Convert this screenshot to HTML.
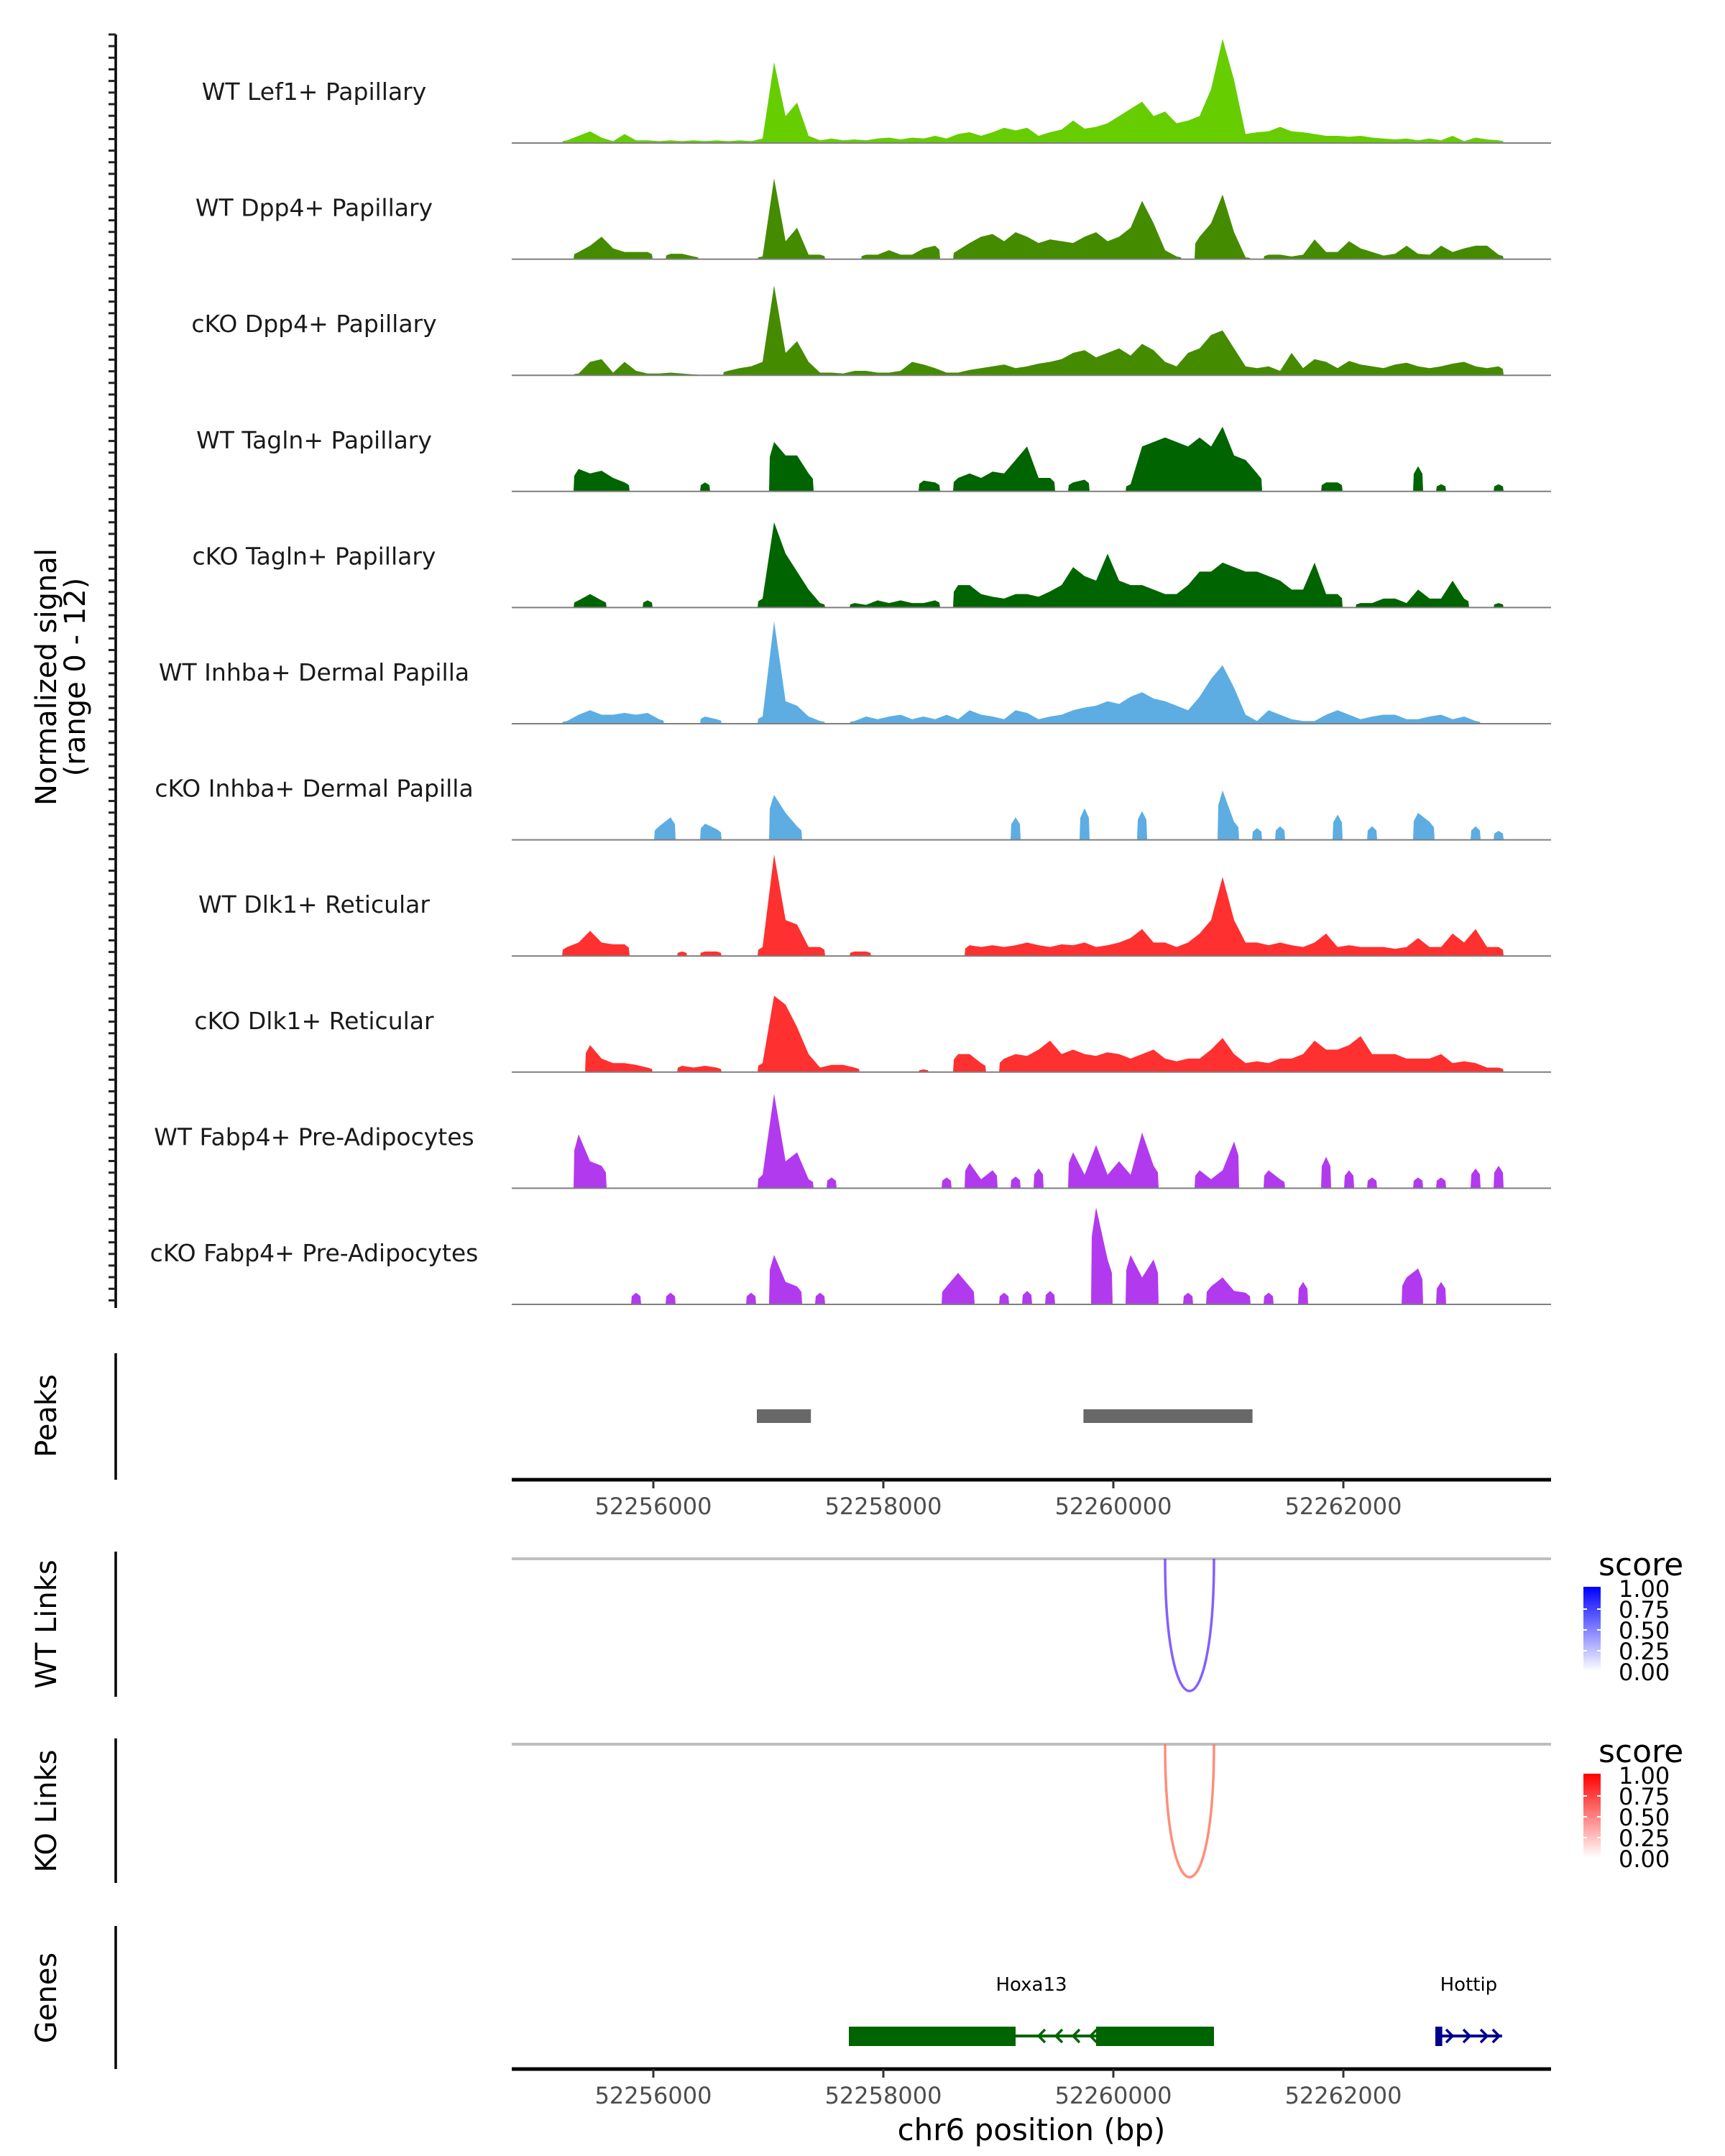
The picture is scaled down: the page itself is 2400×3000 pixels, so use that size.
<!DOCTYPE html>
<html><head><meta charset="utf-8"><style>
html,body{margin:0;padding:0;background:#fff}
svg{display:block;font-family:"DejaVu Sans","Liberation Sans",sans-serif}
</style></head><body>
<svg id="chart" width="2400" height="3000" viewBox="0 0 2400 3000" xmlns="http://www.w3.org/2000/svg">
<g id="tracks"></g>
<g id="static"></g>
</svg>
<script>
const trackNames = ["WT Lef1+ Papillary","WT Dpp4+ Papillary","cKO Dpp4+ Papillary","WT Tagln+ Papillary","cKO Tagln+ Papillary","WT Inhba+ Dermal Papilla","cKO Inhba+ Dermal Papilla","WT Dlk1+ Reticular","cKO Dlk1+ Reticular","WT Fabp4+ Pre-Adipocytes","cKO Fabp4+ Pre-Adipocytes"];
const trackColors = ["#66cd00","#458b00","#458b00","#006400","#006400","#5dade2","#5dade2","#ff3030","#ff3030","#b23aee","#b23aee"];
const binStart = 52255200;
const binSize = 100;
const lef1WT = [0.3,0.8,1.3,0.6,0.2,1.0,0.3,0.3,0.2,0.3, 0.2,0.3,0.2,0.3,0.2,0.3,0.2,0.5,9.0,3.0, 4.5,0.8,0.3,0.5,0.3,0.4,0.3,0.5,0.6,0.4, 0.6,0.5,0.8,0.5,1.0,1.2,0.8,1.2,1.7,1.4, 1.7,0.8,1.2,1.5,2.5,1.6,1.8,2.2,3.0,3.8, 4.6,3.0,3.5,2.2,2.5,3.0,6.0,11.6,7.0,1.0, 1.2,1.3,1.8,1.3,1.2,1.0,0.8,0.8,0.7,0.8, 0.6,0.5,0.4,0.5,0.3,0.5,0.3,0.8,0.2,0.6, 0.4,0.3];
const dpp4WT = [0,0.8,1.5,2.5,1.2,0.8,0.8,0.8,0,0.6, 0.6,0.3,0,0,0,0,0,0.3,9.0,2.0, 3.5,0.5,0.5,0,0,0,0.5,0.5,1.0,0.5, 0.5,1.2,1.5,0,1.0,1.8,2.5,2.8,2.0,3.0, 2.5,1.8,2.2,2.0,1.8,2.5,3.0,2.0,2.5,3.5, 6.5,4.0,1.0,0.3,0,2.5,4.0,7.2,3.0,0.2, 0,0.5,0.5,0.3,0.5,2.2,0.8,0.8,2.0,1.2, 0.8,0.4,0.6,1.5,0.6,0.5,1.5,0.8,1.2,1.5, 1.5,0.5];
const dpp4KO = [0,0.2,1.5,1.8,0.3,1.5,0.5,0.2,0.2,0.3, 0.2,0.1,0,0,0.5,0.8,1.0,1.5,10.0,2.5, 3.8,1.5,0.3,0.3,0.2,0.5,0.5,0.3,0.3,0.5, 1.5,1.2,0.8,0.3,0.3,0.6,0.8,1.0,1.2,0.8, 1.0,1.3,1.5,1.8,2.5,2.8,2.0,2.5,3.0,2.2, 3.5,2.8,1.5,1.0,2.5,3.0,4.5,5.0,3.0,1.0, 0.8,1.0,0.5,2.5,0.8,1.8,1.5,0.8,1.6,1.2, 1.0,0.8,1.2,1.4,1.0,0.8,1.0,1.3,1.5,1.0, 0.8,1.0];
const taglnWT = [0,2.5,2.0,2.3,1.5,1.0,0,0,0,0, 0,0,1.0,0,0,0,0,0,5.5,4.0, 4.0,2.0,0,0,0,0,0,0,0,0, 0,1.2,1.0,0,1.5,2.0,1.5,2.2,2.0,3.5, 5.0,1.5,1.5,0,1.0,1.3,0,0,0,0.8, 5.0,5.5,6.0,5.5,5.0,6.0,5.0,7.2,4.0,3.5, 2.0,0,0,0,0,0,1.0,1.0,0,0, 0,0,0,0,2.8,0,0.8,0,0,0, 0,0.8];
const taglnKO = [0,0.8,1.5,0.8,0,0,0,0.8,0,0, 0,0,0,0,0,0,0,1.0,9.5,6.0, 4.0,2.0,0.5,0,0,0.5,0.3,0.8,0.5,0.8, 0.5,0.5,0.8,0,2.5,2.5,1.5,1.2,1.0,1.5, 1.5,1.2,1.8,2.5,4.5,3.5,3.0,6.0,3.0,2.5, 2.5,2.0,1.5,1.5,2.5,4.0,4.0,5.0,4.5,4.0, 4.0,3.5,3.0,2.0,2.0,5.0,1.5,1.5,0,0.5, 0.5,1.0,1.0,0.5,2.0,1.0,1.0,3.0,1.0,0, 0,0.5];
const inhbaWT = [0.3,1.0,1.5,1.0,1.0,1.2,1.0,1.2,0.5,0, 0,0,0.8,0.5,0,0,0,0.8,11.4,2.5, 2.0,0.8,0.3,0,0,0.3,0.8,0.5,0.8,1.0, 0.5,0.8,0.5,1.0,0.5,1.5,1.0,0.8,0.5,1.5, 1.2,0.5,0.8,1.0,1.5,1.8,2.0,2.5,2.2,3.0, 3.5,2.8,2.5,2.0,1.5,3.0,5.0,6.5,4.0,1.0, 0.3,1.5,1.0,0.5,0.3,0.3,1.0,1.5,1.0,0.5, 0.8,1.0,1.0,0.5,0.5,0.8,1.0,0.5,0.8,0.3, 0,0];
const inhbaKO = [0,0,0,0,0,0,0,0,1.5,2.5, 0,0,1.8,1.2,0,0,0,0,5.0,3.0, 1.5,0,0,0,0,0,0,0,0,0, 0,0,0,0,0,0,0,0,0,2.5, 0,0,0,0,0,3.5,0,0,0,0, 3.2,0,0,0,0,0,0,5.5,2.0,0, 1.3,0,1.5,0,0,0,0,2.8,0,0, 1.5,0,0,0,3.0,2.0,0,0,0,1.5, 0,1.0];
const dlk1WT = [1.0,1.5,2.8,1.5,1.3,1.3,0,0,0,0, 0.5,0,0.5,0.5,0,0,0,1.0,11.3,4.0, 3.5,1.0,1.0,0,0,0.5,0.5,0,0,0, 0,0,0,0,0,1.2,1.0,1.2,1.0,1.2, 1.5,1.2,1.0,1.3,1.2,1.5,1.0,1.2,1.5,2.0, 3.0,1.5,1.5,1.0,1.5,2.5,4.0,8.8,4.0,1.5, 1.5,1.2,1.5,1.2,1.0,1.5,2.5,1.0,1.2,1.0, 1.0,1.0,0.8,1.0,2.0,1.0,1.0,2.5,1.5,3.0, 1.0,1.0];
const dlk1KO = [0,0,3.0,1.5,1.0,1.0,0.8,0.5,0,0, 0.7,0.5,0.7,0.5,0,0,0,1.0,8.5,7.5, 5.0,2.0,0.5,0.8,0.8,0.5,0,0,0,0, 0,0.3,0,0,2.0,2.0,1.0,0,1.5,2.0, 1.8,2.5,3.5,2.0,2.5,2.0,1.8,2.2,2.0,1.5, 2.0,2.5,1.5,1.2,1.5,1.5,2.5,3.8,2.0,1.0, 1.2,1.0,1.5,1.5,2.0,3.5,2.5,2.5,3.0,4.0, 2.0,2.0,2.0,1.5,1.5,1.5,2.0,1.0,1.2,1.0, 0.5,0.5];
const fabp4WT = [0,6.0,3.0,2.5,0,0,0,0,0,0, 0,0,0,0,0,0,0,1.5,10.5,3.0, 4.0,1.0,0,1.2,0,0,0,0,0,0, 0,0,0,1.2,0,2.8,1.0,2.0,0,1.3, 0,2.2,0,0,4.0,1.5,4.8,1.5,3.0,1.5, 6.2,2.5,0,0,0,2.0,1.0,2.0,5.2,0, 0,2.0,1.0,0,0,0,3.5,0,2.0,0, 1.2,0,0,0,1.2,0,1.2,0,0,2.2, 0,2.5];
const fabp4KO = [0,0,0,0,0,0,1.3,0,0,1.3, 0,0,0,0,0,0,1.3,0,5.5,2.5, 2.0,0,1.3,0,0,0,0,0,0,0, 0,0,0,2.0,3.5,2.0,0,0,1.3,0, 1.5,0,1.5,0,0,0,10.8,5.0,0,5.5, 3.0,5.0,0,0,1.3,0,2.0,3.0,1.5,1.3, 0,1.3,0,0,2.5,0,0,0,0,0, 0,0,0,3.0,4.0,0,2.5,0,0,0, 0,0];
const trackValues = [lef1WT,dpp4WT,dpp4KO,taglnWT,taglnKO,inhbaWT,inhbaKO,dlk1WT,dlk1KO,fabp4WT,fabp4KO];
const peakStarts = [52256900, 52259740];
const peakEnds = [52257370, 52261210];
const xTicks = [52256000, 52258000, 52260000, 52262000];
const linkStart = [52260450];
const linkEnd = [52260875];
const wtLinkScore = [0.7];
const koLinkScore = [0.6];
const geneNames = ["Hoxa13","Hottip"];
const geneStart = [52257700, 52262800];
const geneEnd = [52260875, 52263380];
const exonStart = [52257700, 52259850, 52262800];
const exonEnd = [52259150, 52260875, 52262860];

const NS="http://www.w3.org/2000/svg";
const X0=712, X1=2158;
function xs(bp){ return 909 + (bp-52256000)*0.16; }
function ys(v,base){ return base - v*150/12; }
function mk(tag,attrs,parent){ const e=document.createElementNS(NS,tag); for(const k in attrs) e.setAttribute(k,attrs[k]); parent.appendChild(e); return e; }
const tg=document.getElementById('tracks');
const sg=document.getElementById('static');

trackNames.forEach((name,t)=>{
  const base = 199 + t*161.6;
  const g=mk('g',{},tg);
  
  
  const vals=trackValues[t];
  let d='M'+xs(binStart).toFixed(1)+','+base;
  vals.forEach((v,i)=>{
    const prev = i>0?vals[i-1]:0, next = i<vals.length-1?vals[i+1]:0;
    const xa=xs(binStart+i*binSize), xb=xs(binStart+(i+1)*binSize), xc=(xa+xb)/2;
    if(v===0){
      d+=' L'+xa.toFixed(1)+','+base+' L'+xb.toFixed(1)+','+base;
    } else {
      if(prev===0) d+=' L'+(xa+1).toFixed(1)+','+base+' L'+(xa+2).toFixed(1)+','+ys(v*0.7,base).toFixed(1);
      d+=' L'+xc.toFixed(1)+','+ys(v,base).toFixed(1);
      if(next===0) d+=' L'+(xb-2).toFixed(1)+','+ys(v*0.7,base).toFixed(1)+' L'+(xb-1).toFixed(1)+','+base;
    }
  });
  d+=' L'+xs(binStart+vals.length*binSize).toFixed(1)+','+base+' Z';
  const p=mk('path',{d:d,fill:trackColors[t],stroke:'none'},g);
  
  
  const bl=mk('line',{x1:X0,x2:X1,y1:base,y2:base,stroke:'#7f7f7f','stroke-width':2},g);
  
  
  const lb=mk('text',{x:437,y:base-60,'font-size':33,'text-anchor':'middle',fill:'#1a1a1a'},g);
  lb.textContent=name;
  
  
});
mk('line',{x1:161,x2:161,y1:48,y2:1820,stroke:'#000','stroke-width':3.5},sg);
for(let y=48;y<=1820;y+=16.16){ mk('line',{x1:151,x2:161,y1:y,y2:y,stroke:'#222','stroke-width':3},sg); }

peakStarts.forEach((s,i)=>{
  const r=mk('rect',{x:xs(s),y:1961,width:xs(peakEnds[i])-xs(s),height:19,fill:'#686868'},sg);
  
  
});
function xaxis(y){
  mk('line',{x1:X0,x2:X1,y1:y,y2:y,stroke:'#000','stroke-width':5},sg);
  xTicks.forEach(v=>{
    mk('line',{x1:xs(v),x2:xs(v),y1:y,y2:y+12,stroke:'#333','stroke-width':3},sg);
    const t=mk('text',{x:xs(v),y:y+48,'font-size':32,'text-anchor':'middle',fill:'#4d4d4d'},sg);
    t.textContent=v;
    
    
  });
}
xaxis(2059);
xaxis(2879);

function links(base,bottom,scores,col){
  mk('line',{x1:X0,x2:X1,y1:base,y2:base,stroke:'#bebebe','stroke-width':4},sg);
  linkStart.forEach((s,i)=>{
    const a=xs(s), b=xs(linkEnd[i]);
    const dy=(bottom-base)*4/3;
    const p=mk('path',{d:`M${a},${base} C${a},${base+dy} ${b},${base+dy} ${b},${base}`,fill:'none',stroke:col,'stroke-width':3.5,opacity:0.4+0.6*scores[i]},sg);
    
    
  });
}
links(2169,2353,wtLinkScore,'#6a3cff');
links(2427,2612,koLinkScore,'#ff6a50');

const gcol=['#006400','#00008b'];
geneNames.forEach((n,i)=>{
  const a=xs(geneStart[i]), b=xs(geneEnd[i]), y=2833;
  mk('line',{x1:a,x2:b,y1:y,y2:y,stroke:gcol[i],'stroke-width':4},sg);
  const t=mk('text',{x:(a+b)/2,y:2770,'font-size':26,'text-anchor':'middle',fill:'#000'},sg);
  t.textContent=n;
  
  
  const dir = i==0?-1:1;
  const arrows = i==0?[xs(52259350),xs(52259500),xs(52259650),xs(52259800)]:[xs(52262950),xs(52263100),xs(52263250),xs(52263380)-4];
  arrows.forEach(ax=>{ mk('path',{d:`M${ax-dir*9},${y-9} L${ax},${y} L${ax-dir*9},${y+9}`,fill:'none',stroke:gcol[i],'stroke-width':3.5},sg); });
});
exonStart.forEach((s,i)=>{
  const col=i<2?gcol[0]:gcol[1];
  const r=mk('rect',{x:xs(s),y:2820,width:xs(exonEnd[i])-xs(s),height:27,fill:col},sg);
  
  
});
</script>
<script>
(function(){
const NS="http://www.w3.org/2000/svg";
const sg=document.getElementById('static');
function mk(tag,attrs){ const e=document.createElementNS(NS,tag); for(const k in attrs) e.setAttribute(k,attrs[k]); sg.appendChild(e); return e; }
[[1883,2059],[2159,2361],[2419,2620],[2680,2879]].forEach(r=>mk('line',{x1:161,x2:161,y1:r[0],y2:r[1],stroke:'#000','stroke-width':3.5}));
function vlabel(txt,x,y,name){ const t=mk('text',{x:x,y:y,'font-size':40,'text-anchor':'middle',transform:`rotate(-90 ${x} ${y})`,fill:'#000'}); t.textContent=txt;   }
vlabel('Normalized signal',78,942,'y-axis-title');
vlabel('(range 0 - 12)',118,942,'y-axis-subtitle');
vlabel('Peaks',78,1970,'peaks-label');
vlabel('WT Links',78,2260,'wt-links-label');
vlabel('KO Links',78,2520,'ko-links-label');
vlabel('Genes',78,2780,'genes-label');
const xt=mk('text',{x:1435,y:2978,'font-size':42,'text-anchor':'middle',fill:'#000'}); xt.textContent='chr6 position (bp)';
 
const defs=mk('defs',{});
[['gb','#0000ff'],['gr','#ff0000']].forEach(g=>{
  const lg=document.createElementNS(NS,'linearGradient'); lg.setAttribute('id',g[0]); lg.setAttribute('x1',0);lg.setAttribute('x2',0);lg.setAttribute('y1',1);lg.setAttribute('y2',0);
  const s1=document.createElementNS(NS,'stop'); s1.setAttribute('offset',0); s1.setAttribute('stop-color','#ffffff');
  const s2=document.createElementNS(NS,'stop'); s2.setAttribute('offset',1); s2.setAttribute('stop-color',g[1]);
  lg.appendChild(s1); lg.appendChild(s2); defs.appendChild(lg);
});
[[2150,'gb'],[2410,'gr']].forEach((L,k)=>{
  const top=L[0];
  const st=mk('text',{x:2224,y:top+42,'font-size':44,fill:'#000'}); st.textContent='score';
   
  const bar=mk('rect',{x:2203,y:top+58,width:24,height:117,fill:`url(#${L[1]})`});
   
  ['1.00','0.75','0.50','0.25','0.00'].forEach((lab,i)=>{
    const y=top+60+i*29;
    if(i>0&&i<4){ mk('line',{x1:2203,x2:2208,y1:y,y2:y,stroke:'#fff','stroke-width':2}); mk('line',{x1:2222,x2:2227,y1:y,y2:y,stroke:'#fff','stroke-width':2}); }
    const t=mk('text',{x:2252,y:y+12,'font-size':32,fill:'#000'}); t.textContent=lab;
     
  });
});
})();
</script>
</body></html>
